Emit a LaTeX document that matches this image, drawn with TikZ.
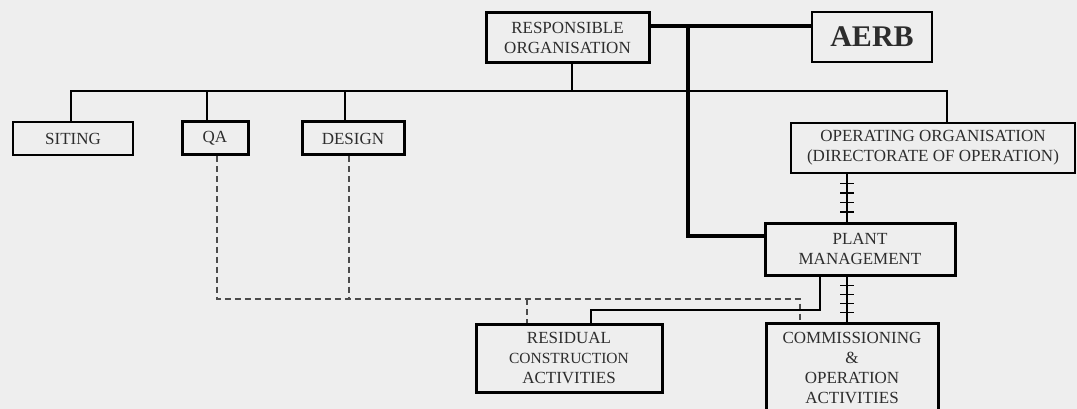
\documentclass[tikz,border=0pt]{standalone}
\usepackage{fontspec}
\setmainfont{Liberation Serif}
\usetikzlibrary{positioning,calc,decorations.markings}
\definecolor{paper}{RGB}{238,238,238}
\definecolor{ink}{RGB}{45,45,45}

\begin{document}
\begin{tikzpicture}[x=1pt, y=-1pt,
  unit/.style={draw, line width=1.4pt, minimum height=33pt, inner sep=0pt,
    font=\fontsize{17}{20}\selectfont, text=ink, align=center, fill=paper},
  heavyunit/.style={unit, line width=3pt},
  link/.style={line width=1.3pt},
  heavy/.style={line width=4pt},
  dashline/.style={line width=1.2pt, dash pattern=on 6pt off 4pt, black!70},
  hashed/.style={link, postaction={decorate}, decoration={markings,
    mark=between positions 0.2 and 0.8 step 0.2 with {\draw[link] (0,-7pt) -- (0,7pt);}}}
]
  \useasboundingbox (0,0) rectangle (1077,409);
  \clip (0,0) rectangle (1077,409);
  \fill[paper] (0,0) rectangle (1077,409);

  % units
  \node[heavyunit, minimum width=163pt, minimum height=50pt] (resp) at (567.5,38)
    {RESPONSIBLE\\ORGANISATION};
  \node[unit, minimum width=120pt, minimum height=50pt,
    font=\fontsize{30}{30}\selectfont\bfseries] (aerb) at (872,37) {AERB};
  \node[unit, minimum width=120pt] (siting) at (73,138.5) {SITING};
  \node[heavyunit, minimum width=66pt] (qa) at (215,138.5) {QA};
  \node[heavyunit, minimum width=102pt] (design) at (353,138.5) {DESIGN};
  \node[heavyunit, line width=2.5pt, minimum width=284pt, minimum height=50pt] (oporg) at (933,148)
    {OPERATING ORGANISATION\\(DIRECTORATE OF OPERATION)};
  \node[heavyunit, minimum width=190pt, minimum height=52pt] (plant) at (860,249)
    {PLANT\\MANAGEMENT};
  \node[heavyunit, minimum width=186pt, minimum height=68pt] (resid) at (569,358)
    {RESIDUAL\\{\fontsize{15.5}{19}\selectfont CONSTRUCTION}\\ACTIVITIES};
  \node[heavyunit, minimum width=172pt, minimum height=90pt] (comm) at (852,368)
    {COMMISSIONING\\\&\\OPERATION\\ACTIVITIES};

  \coordinate (junc) at (688,26);
  \coordinate (bus) at (572,91);
  \coordinate (dashbus) at (0,299);
  \coordinate (pmbus) at (0,310);
  \coordinate (hx) at (847,0);

  % regulatory line
  \draw[heavy] (resp.east |- junc) -- (aerb.west |- junc);
  \draw[heavy] (junc) |- ([yshift=13pt]plant.west);

  % organisation tree
  \draw[link] (resp.south -| bus) -- (bus);
  \draw[link] ([xshift=-2pt]siting.north) |- ([xshift=14pt]oporg.north |- bus)
    -- ([xshift=14pt]oporg.north);
  \draw[link] ([xshift=-8pt]qa.north) -- ([xshift=-8pt]qa.north |- bus);
  \draw[link] ([xshift=-8pt]design.north) -- ([xshift=-8pt]design.north |- bus);

  % QA and design interfaces
  \draw[dashline] ([xshift=2pt]qa.south) |- ([xshift=-52pt]comm.north |- dashbus)
    -- ([xshift=-52pt]comm.north);
  \draw[dashline] ([xshift=-4pt]design.south) -- ([xshift=-4pt]design.south |- dashbus);
  \draw[dashline] ([xshift=-42pt]resid.north |- dashbus) -- ([xshift=-42pt]resid.north);

  \draw[link] ([xshift=-40pt]plant.south) |- ([xshift=22pt]resid.north |- pmbus)
    -- ([xshift=22pt]resid.north);

  \draw[hashed] (oporg.south -| hx) -- (plant.north -| hx);
  \draw[hashed] (plant.south -| hx) -- (comm.north -| hx);
\end{tikzpicture}
\end{document}
